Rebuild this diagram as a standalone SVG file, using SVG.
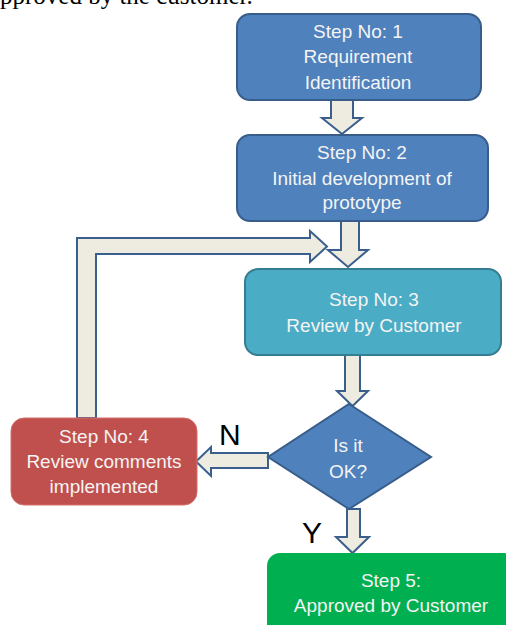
<svg xmlns="http://www.w3.org/2000/svg" width="506" height="625" viewBox="0 0 506 625">
<style>
.t{font-family:"Liberation Sans",Arial,sans-serif;font-size:19px;fill:#F4F4F4;text-anchor:middle}
.lbl{font-family:"Liberation Sans",Arial,sans-serif;font-size:30px;fill:#000}
.arr{fill:#EEECE1;stroke:#3B5F8C;stroke-width:2;stroke-linejoin:miter}
</style>
<rect width="506" height="625" fill="#fff"/>
<text x="0" y="4" style="font-family:'Liberation Serif','Times New Roman',serif;font-size:25px;fill:#000">pproved by the customer.</text>
<g id="connectors">
<path class="arr" d="M331,100 V118 H322 L342,134 L362,118 H353 V100 Z"/>
<path class="arr" d="M341,221 V250 H328 L348,267 L368,250 H359 V221 Z"/>
<path class="arr" d="M345,355 V391 H337 L352.5,406 L368,391 H360 V355 Z"/>
<path class="arr" d="M268,453 H211 V447 L196,461.5 L211,476 V468 H268 Z"/>
<path class="arr" d="M347,509 V537 H336 L352.5,553 L369,537 H360 V509 Z"/>
<path class="arr" d="M77,418 V238 H310 V231 L327,246.5 L310,262 V254 H96 V418 Z"/>
</g>
<g id="step1">
<rect x="237" y="14" width="244" height="86" rx="13" fill="#4F81BD" stroke="#385D8A" stroke-width="2"/>
<text class="t" x="358" y="38">Step No: 1</text>
<text class="t" x="358" y="63">Requirement</text>
<text class="t" x="358" y="89">Identification</text>
</g>
<g id="step2">
<rect x="237" y="135" width="251" height="86" rx="13" fill="#4F81BD" stroke="#385D8A" stroke-width="2"/>
<text class="t" x="362" y="159">Step No: 2</text>
<text class="t" x="362" y="185">Initial development of</text>
<text class="t" x="362" y="209">prototype</text>
</g>
<g id="step3">
<rect x="245" y="269" width="256" height="86" rx="13" fill="#4BACC6" stroke="#357D91" stroke-width="2"/>
<text class="t" x="374" y="306">Step No: 3</text>
<text class="t" x="374" y="332">Review by Customer</text>
</g>
<g id="step4">
<rect x="11" y="418" width="186" height="87" rx="13" fill="#C0504D" stroke="#D3706D" stroke-width="1"/>
<text class="t" x="104" y="443">Step No: 4</text>
<text class="t" x="104" y="468">Review comments</text>
<text class="t" x="104" y="493">implemented</text>
</g>
<g id="decision">
<path d="M349,404 L431,457 L349,509 L268,457 Z" fill="#4F81BD" stroke="#385D8A" stroke-width="2"/>
<text class="t" x="348" y="452">Is it</text>
<text class="t" x="348" y="478">OK?</text>
</g>
<g id="step5">
<rect x="267" y="553" width="250" height="90" rx="13" fill="#00B050"/>
<text class="t" x="391" y="587">Step 5:</text>
<text class="t" x="391" y="612">Approved by Customer</text>
</g>
<g id="labels">
<text class="lbl" x="219" y="445">N</text>
<text class="lbl" x="302" y="543">Y</text>
</g>
</svg>
